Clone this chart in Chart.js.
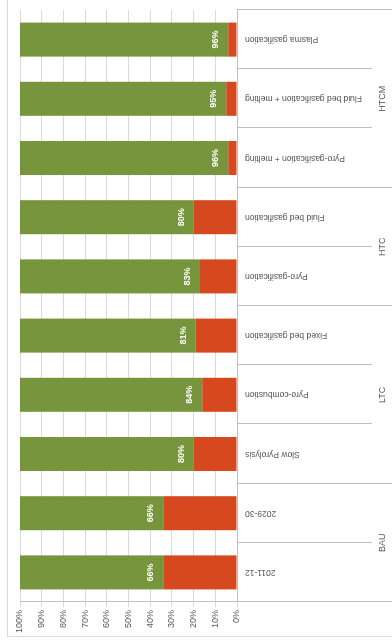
<!DOCTYPE html>
<html>
<head>
<meta charset="utf-8">
<script src="https://cdn.jsdelivr.net/npm/chart.js@4"></script>
<style>
    html, body { margin: 0; padding: 0; background: #fff; overflow: hidden; }
    body { width: 392px; height: 642px; position: relative; }
    /* the chart is drawn upright, then turned a quarter to the left */
    #wrap {
        position: absolute; left: 0; top: 0;
        width: 642px; height: 392px;
        transform-origin: 0 0;
        transform: translate(0, 642px) rotate(-90deg);
    }
    #frame {
        position: absolute; left: 5px; top: 7px;
        width: 700px; height: 500px;
        border: 1px solid #d9d9d9;
    }
    #chart { position: absolute; left: 0; top: 0; }
</style>
</head>
<body>
<div id="wrap">
    <div id="frame"></div>
    <canvas id="chart" width="642" height="392"></canvas>
</div>
<script>
// Categories (left to right on the upright chart)
const categories = [
    '2011-12', '2029-30',
    'Slow Pyrolysis', 'Pyro-combustion', 'Fixed bed gasification',
    'Pyro-gasification', 'Fluid bed gasification',
    'Pyro-gasification + melting', 'Fluid bed gasification + melting', 'Plasma gasification',
];
// Group labels and how many categories each covers
const groups = ['BAU', 'LTC', 'HTC', 'HTCM'];
const groupSizes = [2, 3, 2, 3];

// Series values (%)
const lossValues = [34, 34, 20, 16, 19, 17, 20, 4, 5, 4];
const shareValues = [66, 66, 80, 84, 81, 83, 80, 96, 95, 96];

const axisColor = '#bfbfbf';
const textColor = '#595959';

// Two-level category axis: separators and group names
const groupAxisPlugin = {
    id: 'groupAxis',
    afterDraw(chart) {
        const ctx = chart.ctx;
        const x = chart.scales.x;
        const top = x.top;
        const bottom = chart.height;
        const n = categories.length;

        // boundary pixel between category i-1 and i
        const edge = (i) => {
            if (i === 0) return x.left;
            if (i === n) return x.right;
            return (x.getPixelForTick(i - 1) + x.getPixelForTick(i)) / 2;
        };

        const groupEdges = [0];
        groupSizes.forEach((s) => groupEdges.push(groupEdges[groupEdges.length - 1] + s));

        ctx.save();
        ctx.strokeStyle = axisColor;
        ctx.lineWidth = 1;
        for (let i = 0; i <= n; i++) {
            const px = Math.round(edge(i)) + 0.5;
            const long = groupEdges.includes(i);
            ctx.beginPath();
            ctx.moveTo(px, top);
            ctx.lineTo(px, long ? bottom : top + 135);
            ctx.stroke();
        }

        ctx.fillStyle = textColor;
        ctx.font = '9px "Liberation Sans", Arial, sans-serif';
        ctx.textAlign = 'center';
        ctx.textBaseline = 'middle';
        groups.forEach((g, k) => {
            const mid = (edge(groupEdges[k]) + edge(groupEdges[k + 1])) / 2;
            ctx.fillText(g, mid, top + 146);
        });
        ctx.restore();
    },
};

// White value labels near the base of the green part
const shareLabelPlugin = {
    id: 'shareLabels',
    afterDatasetsDraw(chart) {
        const ctx = chart.ctx;
        const meta = chart.getDatasetMeta(1);
        ctx.save();
        ctx.fillStyle = '#ffffff';
        ctx.font = 'bold 9px "Liberation Sans", Arial, sans-serif';
        ctx.textAlign = 'center';
        ctx.textBaseline = 'alphabetic';
        meta.data.forEach((bar, i) => {
            ctx.fillText(shareValues[i] + '%', bar.x, bar.base - 10);
        });
        ctx.restore();
    },
};

const ctx = document.getElementById('chart').getContext('2d');
new Chart(ctx, {
    type: 'bar',
    data: {
        labels: categories,
        datasets: [
            {
                label: 'Loss',
                data: lossValues,
                backgroundColor: '#d6491f',
                categoryPercentage: 1,
                barPercentage: 0.575,
            },
            {
                label: 'Share',
                data: shareValues,
                backgroundColor: '#77953c',
                categoryPercentage: 1,
                barPercentage: 0.575,
            },
        ],
    },
    options: {
        responsive: false,
        animation: false,
        layout: { padding: { left: 5, right: 10, top: 20, bottom: 0 } },
        plugins: {
            legend: { display: false },
            tooltip: { enabled: false },
        },
        scales: {
            x: {
                stacked: true,
                grid: { display: false, drawTicks: false },
                border: { display: true, color: axisColor },
                ticks: {
                    autoSkip: false,
                    minRotation: 90,
                    maxRotation: 90,
                    padding: 8,
                    color: textColor,
                    font: { family: '"Liberation Sans", Arial, sans-serif', size: 8.5 },
                },
                afterFit(scale) { scale.height = 155; },
            },
            y: {
                stacked: true,
                min: 0,
                max: 100,
                grid: { color: '#d9d9d9', tickLength: 5 },
                border: { display: true, color: axisColor },
                ticks: {
                    stepSize: 10,
                    padding: 3,
                    color: textColor,
                    font: { family: '"Liberation Sans", Arial, sans-serif', size: 9 },
                    callback: (v) => v + '%',
                },
                afterFit(scale) { scale.width = 35; },
            },
        },
    },
    plugins: [groupAxisPlugin, shareLabelPlugin],
});
</script>
</body>
</html>
